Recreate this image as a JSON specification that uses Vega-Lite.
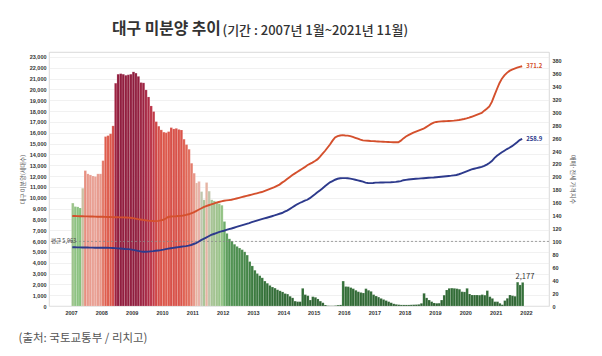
{
  "$schema": "https://vega.github.io/schema/vega-lite/v6.json",
  "width": 500,
  "height": 254,
  "autosize": {"type": "none"},
  "padding": {"left": 49, "top": 52, "right": 53, "bottom": 50},
  "background": "white",
  "config": {
    "font": "Noto Sans CJK KR",
    "view": {"stroke": "#d0d0d0", "strokeWidth": 0.8}
  },
  "title": {"text": "대구 미분양 추이", "anchor": "start", "frame": "group", "dx": 63, "dy": 18, "fontSize": 15.8, "fontWeight": "bold", "color": "#333333", "font": "Noto Sans CJK KR"},
  "data": {"values": [
    {"d":"2007/01/01","u":9500,"s":139.4,"j":91.0},{"d":"2007/02/01","u":9180,"s":139.3,"j":90.9},{"d":"2007/03/01","u":9150,"s":139.2,"j":90.8},{"d":"2007/04/01","u":9050,"s":139.0,"j":90.7},{"d":"2007/05/01","u":10870,"s":139.0,"j":90.6},{"d":"2007/06/01","u":12500,"s":138.8,"j":90.5},{"d":"2007/07/01","u":12200,"s":138.7,"j":90.5},{"d":"2007/08/01","u":12100,"s":138.6,"j":90.4},{"d":"2007/09/01","u":12000,"s":138.5,"j":90.4},{"d":"2007/10/01","u":11950,"s":138.4,"j":90.3},{"d":"2007/11/01","u":12200,"s":138.3,"j":90.3},{"d":"2007/12/01","u":12200,"s":138.2,"j":90.3},
    {"d":"2008/01/01","u":13420,"s":138.1,"j":90.3},{"d":"2008/02/01","u":15640,"s":138.0,"j":90.2},{"d":"2008/03/01","u":15730,"s":137.9,"j":90.1},{"d":"2008/04/01","u":15900,"s":137.8,"j":90.0},{"d":"2008/05/01","u":16630,"s":137.6,"j":89.8},{"d":"2008/06/01","u":20570,"s":137.5,"j":89.6},{"d":"2008/07/01","u":21400,"s":137.4,"j":89.3},{"d":"2008/08/01","u":21450,"s":137.3,"j":89.0},{"d":"2008/09/01","u":21400,"s":137.2,"j":88.7},{"d":"2008/10/01","u":21300,"s":137.0,"j":88.3},{"d":"2008/11/01","u":21350,"s":136.8,"j":88.0},{"d":"2008/12/01","u":21400,"s":136.6,"j":87.7},
    {"d":"2009/01/01","u":21615,"s":136.0,"j":87.0},{"d":"2009/02/01","u":21500,"s":135.3,"j":86.2},{"d":"2009/03/01","u":21200,"s":134.6,"j":85.4},{"d":"2009/04/01","u":20630,"s":134.0,"j":84.6},{"d":"2009/05/01","u":20600,"s":133.3,"j":84.1},{"d":"2009/06/01","u":19950,"s":132.7,"j":84.0},{"d":"2009/07/01","u":19300,"s":132.2,"j":84.2},{"d":"2009/08/01","u":18470,"s":131.8,"j":84.6},{"d":"2009/09/01","u":17950,"s":131.6,"j":85.0},{"d":"2009/10/01","u":17020,"s":131.5,"j":85.5},{"d":"2009/11/01","u":16600,"s":131.8,"j":86.0},{"d":"2009/12/01","u":16260,"s":132.5,"j":86.5},
    {"d":"2010/01/01","u":16050,"s":133.5,"j":87.2},{"d":"2010/02/01","u":16000,"s":135.5,"j":88.0},{"d":"2010/03/01","u":16100,"s":137.8,"j":88.8},{"d":"2010/04/01","u":16470,"s":138.5,"j":89.4},{"d":"2010/05/01","u":16350,"s":138.8,"j":90.0},{"d":"2010/06/01","u":16400,"s":139.0,"j":90.6},{"d":"2010/07/01","u":16300,"s":139.3,"j":91.2},{"d":"2010/08/01","u":16250,"s":139.6,"j":91.8},{"d":"2010/09/01","u":15400,"s":140.2,"j":92.3},{"d":"2010/10/01","u":14900,"s":141.0,"j":92.8},{"d":"2010/11/01","u":14470,"s":142.0,"j":93.5},{"d":"2010/12/01","u":13180,"s":143.5,"j":94.5},
    {"d":"2011/01/01","u":12260,"s":145.0,"j":96.0},{"d":"2011/02/01","u":11360,"s":147.0,"j":97.5},{"d":"2011/03/01","u":11500,"s":149.0,"j":99.5},{"d":"2011/04/01","u":10560,"s":151.0,"j":102.0},{"d":"2011/05/01","u":9800,"s":153.0,"j":104.0},{"d":"2011/06/01","u":11400,"s":154.5,"j":106.0},{"d":"2011/07/01","u":10600,"s":156.0,"j":108.0},{"d":"2011/08/01","u":9800,"s":157.5,"j":110.0},{"d":"2011/09/01","u":9700,"s":158.5,"j":111.5},{"d":"2011/10/01","u":9600,"s":160.0,"j":113.0},{"d":"2011/11/01","u":9450,"s":161.0,"j":114.5},{"d":"2011/12/01","u":9300,"s":162.0,"j":115.5},
    {"d":"2012/01/01","u":7800,"s":163.0,"j":116.5},{"d":"2012/02/01","u":6700,"s":163.5,"j":117.8},{"d":"2012/03/01","u":6200,"s":164.0,"j":119.0},{"d":"2012/04/01","u":6000,"s":164.5,"j":120.0},{"d":"2012/05/01","u":5700,"s":165.5,"j":121.2},{"d":"2012/06/01","u":5500,"s":166.5,"j":122.4},{"d":"2012/07/01","u":5350,"s":167.5,"j":123.6},{"d":"2012/08/01","u":5200,"s":168.5,"j":124.8},{"d":"2012/09/01","u":5000,"s":169.5,"j":126.0},{"d":"2012/10/01","u":4700,"s":170.5,"j":127.2},{"d":"2012/11/01","u":4100,"s":171.5,"j":128.4},{"d":"2012/12/01","u":3700,"s":172.5,"j":129.8},
    {"d":"2013/01/01","u":3300,"s":173.5,"j":131.0},{"d":"2013/02/01","u":3000,"s":174.5,"j":132.2},{"d":"2013/03/01","u":2800,"s":175.5,"j":133.4},{"d":"2013/04/01","u":2600,"s":176.5,"j":134.5},{"d":"2013/05/01","u":2300,"s":178.0,"j":135.6},{"d":"2013/06/01","u":2100,"s":179.5,"j":136.7},{"d":"2013/07/01","u":1900,"s":181.0,"j":137.8},{"d":"2013/08/01","u":1750,"s":182.5,"j":139.0},{"d":"2013/09/01","u":1650,"s":184.0,"j":140.2},{"d":"2013/10/01","u":1500,"s":186.0,"j":141.5},{"d":"2013/11/01","u":1400,"s":188.0,"j":142.8},{"d":"2013/12/01","u":1300,"s":191.0,"j":144.0},
    {"d":"2014/01/01","u":1150,"s":193.5,"j":146.0},{"d":"2014/02/01","u":1100,"s":196.5,"j":147.8},{"d":"2014/03/01","u":900,"s":199.5,"j":150.0},{"d":"2014/04/01","u":750,"s":202.5,"j":152.5},{"d":"2014/05/01","u":450,"s":205.0,"j":155.0},{"d":"2014/06/01","u":400,"s":207.5,"j":157.5},{"d":"2014/07/01","u":400,"s":210.0,"j":159.5},{"d":"2014/08/01","u":1630,"s":212.5,"j":161.2},{"d":"2014/09/01","u":1050,"s":215.0,"j":163.0},{"d":"2014/10/01","u":950,"s":218.0,"j":164.5},{"d":"2014/11/01","u":550,"s":220.0,"j":167.0},{"d":"2014/12/01","u":860,"s":222.0,"j":170.0},
    {"d":"2015/01/01","u":800,"s":224.5,"j":173.0},{"d":"2015/02/01","u":650,"s":227.0,"j":176.0},{"d":"2015/03/01","u":450,"s":231.0,"j":179.0},{"d":"2015/04/01","u":300,"s":235.5,"j":182.0},{"d":"2015/05/01","u":90,"s":240.0,"j":185.5},{"d":"2015/06/01","u":30,"s":245.0,"j":188.5},{"d":"2015/07/01","u":20,"s":250.0,"j":191.5},{"d":"2015/08/01","u":20,"s":256.0,"j":193.5},{"d":"2015/09/01","u":40,"s":261.0,"j":195.5},{"d":"2015/10/01","u":80,"s":263.0,"j":197.0},{"d":"2015/11/01","u":100,"s":264.0,"j":197.8},{"d":"2015/12/01","u":2300,"s":264.5,"j":198.0},
    {"d":"2016/01/01","u":1800,"s":264.0,"j":198.0},{"d":"2016/02/01","u":1785,"s":263.8,"j":197.8},{"d":"2016/03/01","u":1700,"s":263.0,"j":197.3},{"d":"2016/04/01","u":1600,"s":262.0,"j":196.5},{"d":"2016/05/01","u":1450,"s":260.5,"j":195.5},{"d":"2016/06/01","u":1320,"s":259.0,"j":194.5},{"d":"2016/07/01","u":1250,"s":257.5,"j":193.5},{"d":"2016/08/01","u":1200,"s":256.5,"j":192.5},{"d":"2016/09/01","u":1600,"s":256.0,"j":191.0},{"d":"2016/10/01","u":1450,"s":255.8,"j":190.5},{"d":"2016/11/01","u":1350,"s":255.5,"j":190.3},{"d":"2016/12/01","u":1050,"s":255.3,"j":190.5},
    {"d":"2017/01/01","u":920,"s":255.0,"j":191.0},{"d":"2017/02/01","u":820,"s":254.8,"j":191.1},{"d":"2017/03/01","u":700,"s":254.6,"j":191.2},{"d":"2017/04/01","u":600,"s":254.4,"j":191.3},{"d":"2017/05/01","u":500,"s":254.2,"j":191.4},{"d":"2017/06/01","u":400,"s":254.0,"j":191.5},{"d":"2017/07/01","u":300,"s":253.8,"j":191.6},{"d":"2017/08/01","u":200,"s":253.6,"j":191.8},{"d":"2017/09/01","u":150,"s":253.5,"j":192.2},{"d":"2017/10/01","u":120,"s":253.5,"j":192.8},{"d":"2017/11/01","u":100,"s":256.0,"j":193.4},{"d":"2017/12/01","u":100,"s":259.5,"j":194.8},
    {"d":"2018/01/01","u":100,"s":262.5,"j":195.3},{"d":"2018/02/01","u":100,"s":264.5,"j":195.8},{"d":"2018/03/01","u":110,"s":266.5,"j":196.2},{"d":"2018/04/01","u":120,"s":268.5,"j":196.6},{"d":"2018/05/01","u":130,"s":270.0,"j":197.0},{"d":"2018/06/01","u":150,"s":271.5,"j":197.3},{"d":"2018/07/01","u":246,"s":273.0,"j":197.6},{"d":"2018/08/01","u":1170,"s":274.5,"j":197.9},{"d":"2018/09/01","u":750,"s":277.0,"j":198.2},{"d":"2018/10/01","u":550,"s":279.5,"j":198.5},{"d":"2018/11/01","u":400,"s":282.0,"j":198.8},{"d":"2018/12/01","u":280,"s":284.0,"j":199.0},
    {"d":"2019/01/01","u":250,"s":285.0,"j":199.4},{"d":"2019/02/01","u":260,"s":285.5,"j":199.8},{"d":"2019/03/01","u":550,"s":285.8,"j":200.2},{"d":"2019/04/01","u":1000,"s":286.0,"j":200.6},{"d":"2019/05/01","u":1478,"s":286.2,"j":201.0},{"d":"2019/06/01","u":1630,"s":286.4,"j":201.4},{"d":"2019/07/01","u":1650,"s":286.6,"j":201.8},{"d":"2019/08/01","u":1630,"s":287.0,"j":202.3},{"d":"2019/09/01","u":1600,"s":287.5,"j":202.8},{"d":"2019/10/01","u":1550,"s":288.0,"j":204.0},{"d":"2019/11/01","u":1320,"s":288.7,"j":205.5},{"d":"2019/12/01","u":1300,"s":289.5,"j":207.0},
    {"d":"2020/01/01","u":1630,"s":290.5,"j":208.5},{"d":"2020/02/01","u":1110,"s":291.7,"j":210.0},{"d":"2020/03/01","u":1015,"s":293.0,"j":211.5},{"d":"2020/04/01","u":1015,"s":294.5,"j":212.5},{"d":"2020/05/01","u":1015,"s":296.0,"j":213.5},{"d":"2020/06/01","u":1000,"s":297.5,"j":214.5},{"d":"2020/07/01","u":1050,"s":299.0,"j":215.5},{"d":"2020/08/01","u":1000,"s":302.5,"j":217.0},{"d":"2020/09/01","u":1420,"s":305.5,"j":219.0},{"d":"2020/10/01","u":860,"s":309.0,"j":221.5},{"d":"2020/11/01","u":700,"s":316.0,"j":224.5},{"d":"2020/12/01","u":400,"s":326.0,"j":229.0},
    {"d":"2021/01/01","u":400,"s":336.0,"j":232.5},{"d":"2021/02/01","u":250,"s":345.0,"j":235.5},{"d":"2021/03/01","u":120,"s":352.0,"j":238.0},{"d":"2021/04/01","u":500,"s":357.0,"j":240.5},{"d":"2021/05/01","u":710,"s":361.0,"j":243.0},{"d":"2021/06/01","u":1015,"s":364.0,"j":245.0},{"d":"2021/07/01","u":950,"s":366.0,"j":247.5},{"d":"2021/08/01","u":900,"s":367.5,"j":250.5},{"d":"2021/09/01","u":2200,"s":369.0,"j":253.5},{"d":"2021/10/01","u":1940,"s":370.2,"j":257.0},{"d":"2021/11/01","u":2177,"s":371.2,"j":258.9}
  ]},
  "layer": [
    {
      "layer": [
        {
          "mark": {"type": "bar", "binSpacing": 0, "stroke": "#ffffff", "strokeWidth": 0.3, "strokeOpacity": 0.45},
          "encoding": {
            "x": {"field": "d", "type": "temporal", "timeUnit": "yearmonth",
              "scale": {"domain": [{"year": 2006, "month": 4, "date": 11}, {"year": 2022, "month": 10, "date": 5}]},
              "axis": {"format": "%Y", "tickCount": {"interval": "year", "step": 1}, "labelFontSize": 5.5, "labelColor": "#333333", "labelFontWeight": "bold", "labelFont": "Liberation Sans", "ticks": false, "domain": false, "grid": false, "labelPadding": 4, "labelFlush": false, "labelOverlap": false,
                "title": "(출처: 국토교통부 / 리치고)", "titleX": -31, "titleY": 32, "titleAlign": "left", "titleAnchor": "start", "titleBaseline": "middle", "titleFontSize": 11.5, "titleFontWeight": "normal", "titleColor": "#555555"}},
            "y": {"field": "u", "type": "quantitative", "scale": {"domain": [0, 23450], "nice": false},
              "axis": {"values": [0,1000,2000,3000,4000,5000,6000,7000,8000,9000,10000,11000,12000,13000,14000,15000,16000,17000,18000,19000,20000,21000,22000,23000], "labelExpr": "format(datum.value, ',')", "grid": true, "gridColor": "#e8e8e8", "gridWidth": 0.6, "ticks": false, "domain": false, "labelFontSize": 5.5, "labelColor": "#333333", "labelFontWeight": "bold", "labelFont": "Liberation Sans", "labelPadding": 3,
                "title": "대구 미분양(세대수)", "titleFontSize": 6, "titleColor": "#555555", "titleFontWeight": "normal", "titlePadding": 4}},
            "color": {"field": "u", "type": "quantitative",
              "scale": {"domain": [0, 2500, 6000, 9000, 10500, 11500, 13000, 16000, 19000, 21600], "range": ["#2b5e2f", "#35733a", "#4e9150", "#84c27c", "#bdc6b0", "#eab0a6", "#e47e6e", "#dd5749", "#b32d46", "#8e1c3d"]},
              "legend": null}
          }
        },
        {
          "data": {"values": [{"v": 5963, "label": "평균 5,963"}]},
          "mark": {"type": "rule", "strokeDash": [2, 2], "color": "#8a8a8a", "strokeWidth": 0.8},
          "encoding": {"y": {"field": "v", "type": "quantitative",
              "axis": {"values": [0,1000,2000,3000,4000,5000,6000,7000,8000,9000,10000,11000,12000,13000,14000,15000,16000,17000,18000,19000,20000,21000,22000,23000], "labelExpr": "format(datum.value, ',')", "grid": true, "gridColor": "#e8e8e8", "gridWidth": 0.6, "ticks": false, "domain": false, "labelFontSize": 5.5, "labelColor": "#333333", "labelFontWeight": "bold", "labelFont": "Liberation Sans", "labelPadding": 3,
                "title": "대구 미분양(세대수)", "titleFontSize": 6, "titleColor": "#555555", "titleFontWeight": "normal", "titlePadding": 4}}}
        },
        {
          "data": {"values": [{"v": 5963, "label": "평균 5,963"}]},
          "mark": {"type": "text", "align": "left", "baseline": "middle", "fontSize": 5.5, "color": "#444444", "dx": 2},
          "encoding": {
            "x": {"datum": {"year": 2006, "month": 4, "date": 11}, "type": "temporal"},
            "y": {"field": "v", "type": "quantitative",
              "axis": {"values": [0,1000,2000,3000,4000,5000,6000,7000,8000,9000,10000,11000,12000,13000,14000,15000,16000,17000,18000,19000,20000,21000,22000,23000], "labelExpr": "format(datum.value, ',')", "grid": true, "gridColor": "#e8e8e8", "gridWidth": 0.6, "ticks": false, "domain": false, "labelFontSize": 5.5, "labelColor": "#333333", "labelFontWeight": "bold", "labelFont": "Liberation Sans", "labelPadding": 3,
                "title": "대구 미분양(세대수)", "titleFontSize": 6, "titleColor": "#555555", "titleFontWeight": "normal", "titlePadding": 4}},
            "text": {"field": "label"}
          }
        },
        {
          "transform": [{"filter": {"field": "d", "timeUnit": "yearmonth", "equal": {"year": 2021, "month": 11}}}],
          "mark": {"type": "text", "align": "center", "baseline": "bottom", "fontSize": 7.5, "color": "#333333", "dx": 4, "dy": -1},
          "encoding": {
            "x": {"field": "d", "type": "temporal", "timeUnit": "yearmonth"},
            "y": {"field": "u", "type": "quantitative",
              "axis": {"values": [0,1000,2000,3000,4000,5000,6000,7000,8000,9000,10000,11000,12000,13000,14000,15000,16000,17000,18000,19000,20000,21000,22000,23000], "labelExpr": "format(datum.value, ',')", "grid": true, "gridColor": "#e8e8e8", "gridWidth": 0.6, "ticks": false, "domain": false, "labelFontSize": 5.5, "labelColor": "#333333", "labelFontWeight": "bold", "labelFont": "Liberation Sans", "labelPadding": 3,
                "title": "대구 미분양(세대수)", "titleFontSize": 6, "titleColor": "#555555", "titleFontWeight": "normal", "titlePadding": 4}},
            "text": {"field": "u", "type": "quantitative", "format": ","}
          }
        }
      ]
    },
    {
      "layer": [
        {
          "mark": {"type": "line", "color": "#d4502d", "strokeWidth": 1.9},
          "encoding": {
            "x": {"field": "d", "type": "temporal", "timeUnit": "yearmonth", "bandPosition": 0.5,
              "scale": {"domain": [{"year": 2006, "month": 4, "date": 11}, {"year": 2022, "month": 10, "date": 5}]},
              "axis": {"orient": "top", "labels": false, "ticks": false, "domain": false, "grid": false,
                "title": "(기간 : 2007년 1월~2021년 11월)", "titleX": 173, "titleY": -22, "titleAlign": "left", "titleAnchor": "start", "titleBaseline": "middle", "titleFontSize": 13, "titleFontWeight": 500, "titleColor": "#333333"}},
            "y": {"field": "s", "type": "quantitative", "scale": {"domain": [0, 393.3], "nice": false},
              "axis": {"orient": "right", "values": [0,20,40,60,80,100,120,140,160,180,200,220,240,260,280,300,320,340,360,380], "grid": false, "ticks": false, "domain": false, "labelFontSize": 5.5, "labelColor": "#333333", "labelFontWeight": "bold", "labelFont": "Liberation Sans", "labelPadding": 3,
                "title": "매매·전세 가격지수", "titleFontSize": 6, "titleColor": "#555555", "titleFontWeight": "normal", "titlePadding": 8}}
          }
        },
        {
          "mark": {"type": "line", "color": "#2d3a8c", "strokeWidth": 1.9},
          "encoding": {
            "x": {"field": "d", "type": "temporal", "timeUnit": "yearmonth", "bandPosition": 0.5},
            "y": {"field": "j", "type": "quantitative",
              "axis": {"orient": "right", "values": [0,20,40,60,80,100,120,140,160,180,200,220,240,260,280,300,320,340,360,380], "grid": false, "ticks": false, "domain": false, "labelFontSize": 5.5, "labelColor": "#333333", "labelFontWeight": "bold", "labelFont": "Liberation Sans", "labelPadding": 3,
                "title": "매매·전세 가격지수", "titleFontSize": 6, "titleColor": "#555555", "titleFontWeight": "normal", "titlePadding": 8}}
          }
        },
        {
          "transform": [{"filter": {"field": "d", "timeUnit": "yearmonth", "equal": {"year": 2021, "month": 11}}}],
          "mark": {"type": "text", "align": "left", "baseline": "middle", "fontSize": 6, "fontWeight": "bold", "color": "#d4502d", "dx": 4},
          "encoding": {
            "x": {"field": "d", "type": "temporal", "timeUnit": "yearmonth", "bandPosition": 0.5},
            "y": {"field": "s", "type": "quantitative",
              "axis": {"orient": "right", "values": [0,20,40,60,80,100,120,140,160,180,200,220,240,260,280,300,320,340,360,380], "grid": false, "ticks": false, "domain": false, "labelFontSize": 5.5, "labelColor": "#333333", "labelFontWeight": "bold", "labelFont": "Liberation Sans", "labelPadding": 3,
                "title": "매매·전세 가격지수", "titleFontSize": 6, "titleColor": "#555555", "titleFontWeight": "normal", "titlePadding": 8}},
            "text": {"field": "s", "type": "quantitative", "format": ".1f"}
          }
        },
        {
          "transform": [{"filter": {"field": "d", "timeUnit": "yearmonth", "equal": {"year": 2021, "month": 11}}}],
          "mark": {"type": "text", "align": "left", "baseline": "middle", "fontSize": 6, "fontWeight": "bold", "color": "#2d3a8c", "dx": 4},
          "encoding": {
            "x": {"field": "d", "type": "temporal", "timeUnit": "yearmonth", "bandPosition": 0.5},
            "y": {"field": "j", "type": "quantitative",
              "axis": {"orient": "right", "values": [0,20,40,60,80,100,120,140,160,180,200,220,240,260,280,300,320,340,360,380], "grid": false, "ticks": false, "domain": false, "labelFontSize": 5.5, "labelColor": "#333333", "labelFontWeight": "bold", "labelFont": "Liberation Sans", "labelPadding": 3,
                "title": "매매·전세 가격지수", "titleFontSize": 6, "titleColor": "#555555", "titleFontWeight": "normal", "titlePadding": 8}},
            "text": {"field": "j", "type": "quantitative", "format": ".1f"}
          }
        }
      ]
    }
  ],
  "resolve": {"scale": {"x": "independent", "y": "independent"}}
}
